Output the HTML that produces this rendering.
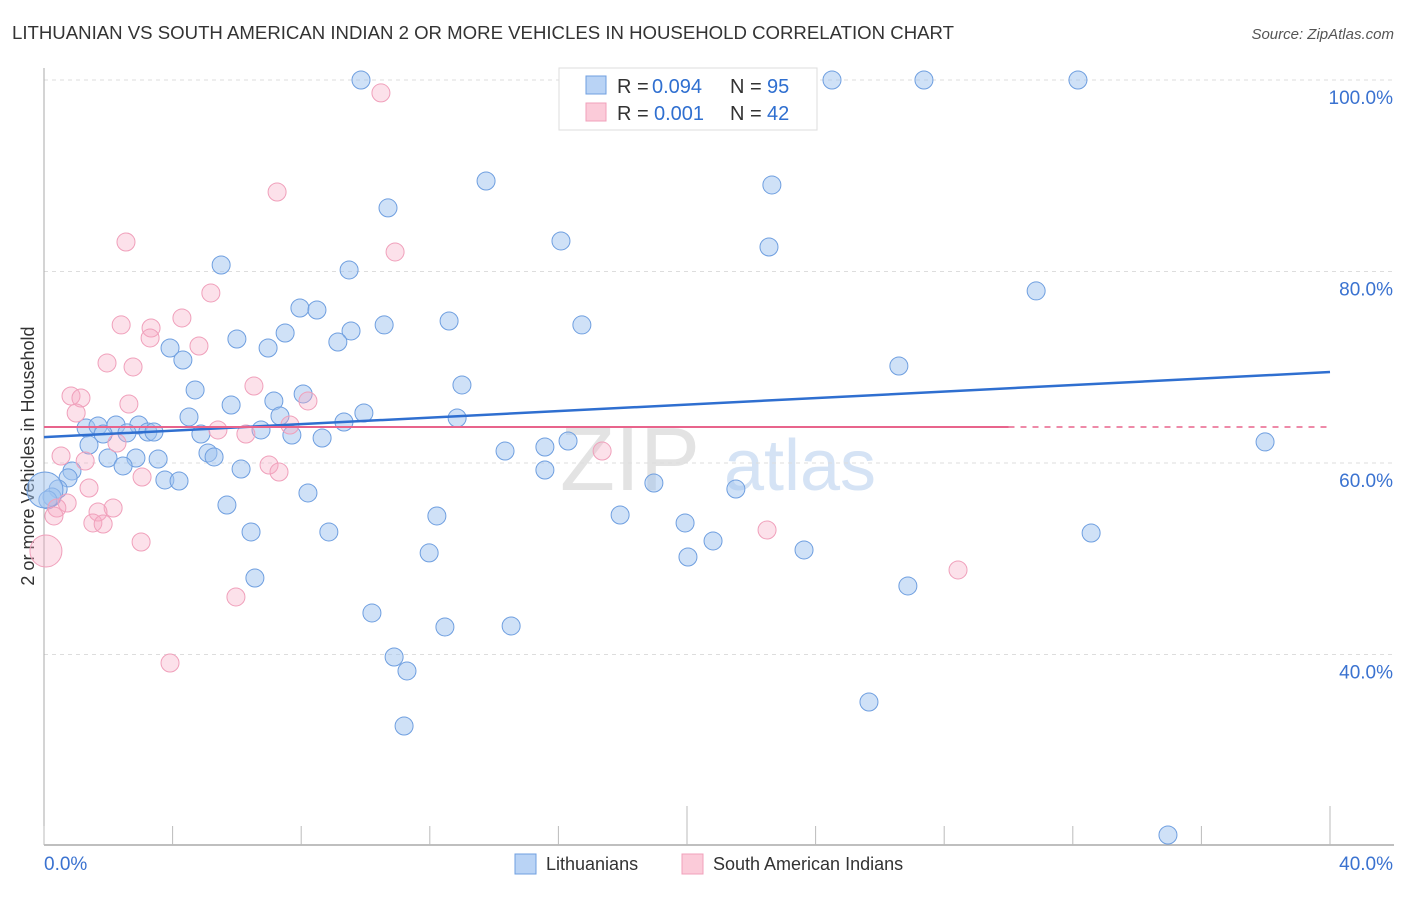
<!DOCTYPE html>
<html><head><meta charset="utf-8"><style>
body{margin:0;background:#fff;font-family:"Liberation Sans",sans-serif;}
svg text{font-family:"Liberation Sans",sans-serif;}
</style></head><body>
<svg id="chart" width="1406" height="892">
<text x="12" y="39" font-size="18" fill="#333" textLength="942" lengthAdjust="spacingAndGlyphs">LITHUANIAN VS SOUTH AMERICAN INDIAN 2 OR MORE VEHICLES IN HOUSEHOLD CORRELATION CHART</text>
<text x="1394" y="39" font-size="15" fill="#555" font-style="italic" text-anchor="end">Source: ZipAtlas.com</text>
<text x="34" y="456" font-size="18" fill="#333" text-anchor="middle" transform="rotate(-90 34 456)">2 or more Vehicles in Household</text>
<g><text x="630" y="490" font-size="90" fill="#e3e3e3" font-family="Liberation Serif" text-anchor="middle">ZIP</text><text x="800" y="490" font-size="72" fill="#d5e3f5" text-anchor="middle">atlas</text></g>
<g id="grid"></g><g id="axes"></g><g id="pts"></g><g id="lines"></g>
<g>
<rect x="559" y="68" width="258" height="62" fill="#fff" stroke="#ddd"/>
<rect x="586" y="76" width="20" height="18" fill="#b9d3f5" stroke="#6f9fe0"/>
<rect x="586" y="103" width="20" height="18" fill="#fbcbd9" stroke="#f0a0bb"/>
<text y="93" font-size="20" fill="#333" xml:space="preserve"><tspan x="617">R =</tspan><tspan x="652" fill="#2f6fd0">0.094</tspan><tspan x="730">N =</tspan><tspan x="767" fill="#2f6fd0">95</tspan></text>
<text y="120" font-size="20" fill="#333" xml:space="preserve"><tspan x="617">R =</tspan><tspan x="654" fill="#2f6fd0">0.001</tspan><tspan x="730">N =</tspan><tspan x="767" fill="#2f6fd0">42</tspan></text>
</g>
<g>
<rect x="515" y="854" width="21" height="20" fill="#b9d3f5" stroke="#6f9fe0"/>
<text x="546" y="870" font-size="18" fill="#333">Lithuanians</text>
<rect x="682" y="854" width="21" height="20" fill="#fbcbd9" stroke="#f0a0bb"/>
<text x="713" y="870" font-size="18" fill="#333">South American Indians</text>
</g>
</svg>
<script>
const blueX=[9.86,17.98,24.51,27.37,32.16,13.75,22.64,10.70,16.08,22.55,5.51,9.49,30.86,7.96,8.49,16.73,10.58,12.60,9.55,6.00,7.50,9.14,6.97,3.92,4.32,26.59,4.70,13.00,8.06,7.15,5.82,9.95,4.51,7.34,12.85,9.33,1.31,1.68,2.24,2.95,1.84,2.58,3.23,3.42,4.88,7.71,8.65,6.75,16.30,37.98,1.40,14.34,15.58,5.10,5.29,1.99,2.86,3.55,2.46,6.13,15.58,0.87,0.75,3.76,4.20,18.97,0.44,8.21,21.52,0.25,0.12,5.69,17.92,12.22,19.94,6.44,8.86,32.57,20.81,23.64,11.98,20.03,6.56,26.87,10.20,12.47,14.53,10.89,11.29,25.66,11.20,34.96,0.03];
const blueY=[100,100,100,100,100,89.45,89.04,86.64,83.19,82.56,80.68,80.16,77.97,76.19,75.98,74.42,74.42,74.83,73.79,72.95,73.58,72.64,72.01,72.01,70.76,70.13,67.63,68.15,67.21,66.48,66.06,65.22,64.81,64.91,64.70,64.28,63.66,63.87,63.97,63.97,63.03,63.14,63.24,63.24,63.03,62.92,62.61,63.45,62.30,62.20,61.88,61.25,61.67,61.05,60.63,60.52,60.52,60.42,59.69,59.37,59.27,59.17,58.44,58.23,58.12,57.91,57.28,56.87,57.28,56.45,56.14,55.61,54.57,54.47,53.74,52.80,52.80,52.69,51.86,50.92,50.61,50.18,47.99,47.16,44.34,42.87,42.98,39.74,38.28,35.04,32.53,21.15,57.18];
const pinkX=[10.48,7.25,2.55,10.92,5.19,2.40,4.29,3.33,3.30,4.82,1.96,2.77,6.53,0.84,1.15,2.64,8.21,1.00,7.65,5.41,6.28,2.27,0.53,1.28,7.00,7.31,17.36,3.05,1.40,2.15,1.68,0.72,0.40,0.31,1.52,1.84,22.49,3.02,0.06,28.43,5.97,3.92];
const pinkY=[98.65,88.30,83.08,82.04,77.76,74.42,75.15,74.10,73.06,72.22,70.45,70.03,68.04,67.00,66.79,66.16,66.48,65.22,63.97,63.45,63.03,62.09,60.73,60.21,59.79,59.06,61.25,58.54,57.39,55.30,54.88,55.82,55.30,54.47,53.74,53.63,53.00,51.75,50.81,48.83,46.01,39.11];
const yTicks=[100,80,60,40];
const yTickLabels=["100.0%","80.0%","60.0%","40.0%"];
const xTicks=[0,4,8,12,16,20,24,28,32,36,40];
const blueTrend=[62.7,69.5];
const pinkTrend=[63.76,63.76];
const NS="http://www.w3.org/2000/svg";
const X=v=>44+v*1286/40;
const Y=v=>80+(100-v)*9.575;
function mk(t,a,p){const e=document.createElementNS(NS,t);for(const k in a)e.setAttribute(k,a[k]);p.appendChild(e);return e;}
const grid=document.getElementById('grid'),axes=document.getElementById('axes'),pts=document.getElementById('pts'),lines=document.getElementById('lines');
yTicks.forEach((v,i)=>{
 const l=mk('line',{x1:44,x2:1394,y1:Y(v),y2:Y(v),stroke:'#ddd','stroke-dasharray':'4,4'},grid);
 
 
 const t=mk('text',{x:1393,y:Y(v)+24,'font-size':19,fill:'#3a72d0','text-anchor':'end'},grid);
 t.textContent=yTickLabels[i];
 
 
});
const ax=mk('line',{x1:44,x2:44,y1:68,y2:845,stroke:'#aaa'},axes);


const bx=mk('line',{x1:44,x2:1394,y1:845,y2:845,stroke:'#aaa','stroke-width':1.5},axes);


xTicks.forEach(v=>{
 const major=(v===20||v===40);
 const t=mk('line',{x1:X(v),x2:X(v),y1:major?806:826,y2:845,stroke:'#bbb'},axes);
 
 
});
const xl=mk('text',{x:44,y:870,'font-size':19,fill:'#3a72d0'},axes);xl.textContent='0.0%';


const xr=mk('text',{x:1393,y:870,'font-size':19,fill:'#3a72d0','text-anchor':'end'},axes);xr.textContent='40.0%';


blueX.forEach((v,i)=>{
 const big=i===blueX.length-1;
 const c=mk('circle',{cx:X(v),cy:Y(blueY[i]),r:big?18:9,fill:'rgba(160,195,240,0.5)',stroke:'#6f9fe0','stroke-width':1},pts);
 
 
});
pinkX.forEach((v,i)=>{
 const big=i===38;
 const c=mk('circle',{cx:X(v),cy:Y(pinkY[i]),r:big?16:9,fill:'rgba(245,170,195,0.35)',stroke:'#f0a0bb','stroke-width':1},pts);
 
 
});
const bl=mk('line',{x1:X(0),x2:X(40),y1:Y(blueTrend[0]),y2:Y(blueTrend[1]),stroke:'#2f6fd0','stroke-width':2.5},lines);


const pl=mk('line',{x1:X(0),x2:X(30),y1:Y(pinkTrend[0]),y2:Y(pinkTrend[0]+(pinkTrend[1]-pinkTrend[0])*0.75),stroke:'#e8648c','stroke-width':2},lines);


const pd=mk('line',{x1:X(30),x2:X(40),y1:Y(pinkTrend[0]),y2:Y(pinkTrend[1]),stroke:'#e8648c','stroke-width':1.5,'stroke-dasharray':'6,6'},lines);


</script>
</body></html>
